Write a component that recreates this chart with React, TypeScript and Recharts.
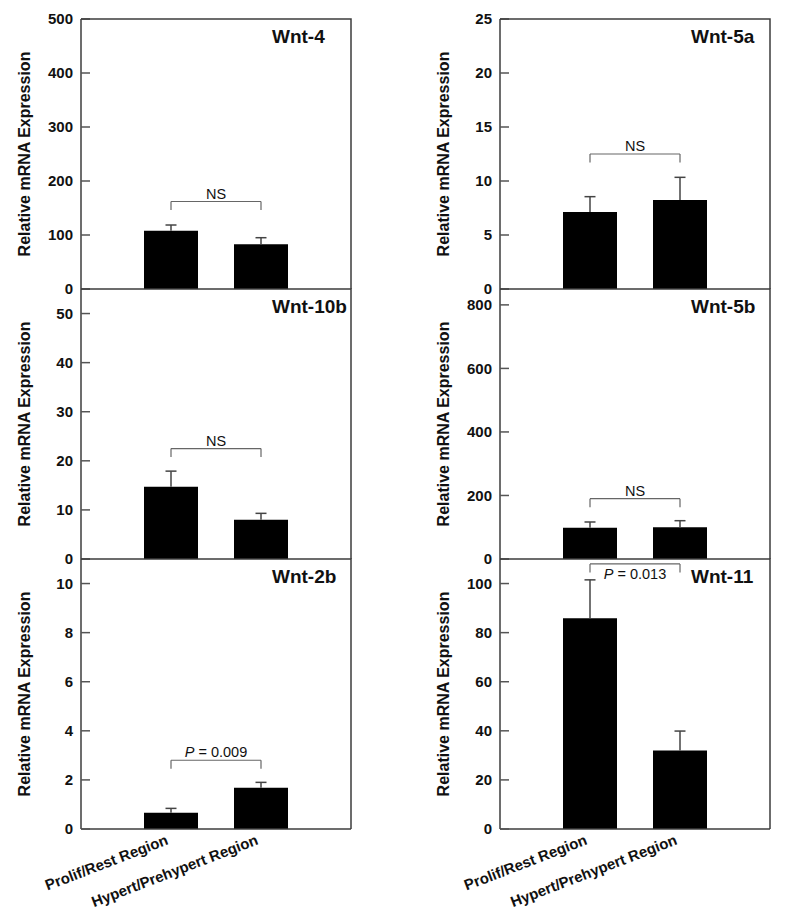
import React from "react";
import { BarChart, Bar, XAxis, YAxis, ReferenceLine } from "recharts";

const FONT = "Arial, 'Liberation Sans', Helvetica, sans-serif";

const regions = ["Prolif/Rest Region", "Hypert/Prehypert Region"];

// panels in reading order: left column first, then right, row by row
const genes = ["Wnt-4", "Wnt-5a", "Wnt-10b", "Wnt-5b", "Wnt-2b", "Wnt-11"];
const means = [
  [108, 82.7],
  [7.13, 8.24],
  [14.7, 8.0],
  [98.6, 100],
  [0.66, 1.68],
  [85.9, 32.0],
];
const errs = [
  [10.5, 12.3],
  [1.42, 2.1],
  [3.2, 1.3],
  [17.9, 20.6],
  [0.18, 0.22],
  [15.6, 7.9],
];
const yMax = [500, 25, 55, 850, 11, 110];
const yTicks = [
  [0, 100, 200, 300, 400, 500],
  [0, 5, 10, 15, 20, 25],
  [0, 10, 20, 30, 40, 50],
  [0, 200, 400, 600, 800],
  [0, 2, 4, 6, 8, 10],
  [0, 20, 40, 60, 80, 100],
];
const bracketY = [162, 12.5, 22.5, 190, 2.8, 108];
const bracketText = ["NS", "NS", "NS", "NS", "P = 0.009", "P = 0.013"];
const bracketBelow = [false, false, false, false, false, true];

const AXIS = "#3c3c3c";
const axisStyle = { stroke: AXIS, strokeWidth: 1.5 };
const TICK_MARGIN = 8;
const PLOT_L = 81;
const PLOT_W = 270;
const PLOT_H = 270;

const YTick = (props: any) => {
  const { x, y, payload } = props;
  const ax = x + TICK_MARGIN;
  return (
    <g>
      <line x1={ax} x2={ax + 9} y1={y} y2={y} stroke="#555" strokeWidth={1.5} />
      <text x={x} y={y} dy="0.36em" textAnchor="end" fontSize={15} fontWeight={700} fill="#111" fontFamily={FONT}>
        {payload.value}
      </text>
    </g>
  );
};

const XTick = (props: any) => {
  const { x, y, payload } = props;
  const tx = x - 2;
  const ty = y + 15;
  return (
    <text x={tx} y={ty} transform={`rotate(-21, ${tx}, ${ty})`} textAnchor="end" fontSize={15} fontWeight={700} fill="#111" fontFamily={FONT}>
      {payload.value}
    </text>
  );
};

// upper-only error bar: stem from bar top to mean+SE with a cap
const ErrShape = (props: any) => {
  const { x, y, width, height } = props;
  if (x == null || !height) return null;
  const cx = x + width / 2;
  return (
    <g>
      <line x1={cx} x2={cx} y1={y + height} y2={y} stroke="#444" strokeWidth={1.5} />
      <line x1={cx - 5.5} x2={cx + 5.5} y1={y} y2={y} stroke="#444" strokeWidth={1.5} />
    </g>
  );
};

const BracketLabel = (props: any) => {
  const { viewBox, text, below } = props;
  if (!viewBox) return null;
  const { x, y, width } = viewBox;
  const isP = text.startsWith("P");
  return (
    <g>
      <line x1={x} x2={x} y1={y} y2={y + 8.5} stroke="#666" strokeWidth={1.2} />
      <line x1={x + width} x2={x + width} y1={y} y2={y + 8.5} stroke="#666" strokeWidth={1.2} />
      <text x={x + width / 2} y={below ? y + 15 : y - 3} textAnchor="middle" fontSize={14.5} fill="#111" fontFamily={FONT}>
        {isP ? (
          <>
            <tspan fontStyle="italic">P</tspan>
            {text.slice(1)}
          </>
        ) : (
          text
        )}
      </text>
    </g>
  );
};

function Panel({ i }: { i: number }) {
  const col = i % 2;
  const row = Math.floor(i / 2);
  const last = row === 2;
  const left = col ? 419 : 0;
  const top = row === 0 ? 0 : row === 1 ? 280 : 550;
  const mTop = row === 0 ? 19 : 9;
  const height = mTop + PLOT_H + (last ? 88 : 11);
  const data = regions.map((r, j) => ({ region: r, mean: means[i][j], err: errs[i][j] }));

  return (
    <div style={{ position: "absolute", left, top, width: 360, height }}>
      <BarChart
        width={360}
        height={height}
        data={data}
        margin={{ top: mTop, right: 9, left: 0, bottom: last ? 0 : 11 }}
      >
        <XAxis
          dataKey="region"
          height={last ? 88 : 0}
          padding={{ left: 45, right: 45 }}
          axisLine={axisStyle}
          tickLine={false}
          tickSize={0}
          tickMargin={0}
          interval={0}
          tick={last ? (p: any) => <XTick {...p} /> : false}
        />
        <YAxis
          width={PLOT_L}
          domain={[0, yMax[i]]}
          ticks={yTicks[i]}
          interval={0}
          allowDataOverflow
          axisLine={axisStyle}
          tickLine={false}
          tickSize={0}
          tickMargin={TICK_MARGIN}
          tick={(p: any) => <YTick {...p} />}
          label={{
            value: "Relative mRNA Expression",
            angle: -90,
            position: "center",
            dx: -16.5,
            fontSize: 16,
            fontWeight: 700,
            fill: "#111",
            fontFamily: FONT,
          }}
        />
        <Bar dataKey="mean" stackId="s" fill="#000" barSize={54} isAnimationActive={false} />
        <Bar dataKey="err" stackId="s" barSize={54} shape={(p: any) => <ErrShape {...p} />} isAnimationActive={false} />
        <ReferenceLine
          segment={[
            { x: regions[0], y: bracketY[i] },
            { x: regions[1], y: bracketY[i] },
          ]}
          stroke="#666"
          strokeWidth={1.2}
          label={<BracketLabel text={bracketText[i]} below={bracketBelow[i]} />}
        />
      </BarChart>
      {/* frame: top and right edges of the plot box */}
      <svg width={360} height={height} style={{ position: "absolute", left: 0, top: 0, pointerEvents: "none" }}>
        <path
          d={`M${PLOT_L},${mTop} H${PLOT_L + PLOT_W} V${mTop + PLOT_H}`}
          fill="none"
          stroke={AXIS}
          strokeWidth={1.5}
        />
      </svg>
      <div
        style={{
          position: "absolute",
          left: PLOT_L + 191,
          top: mTop + 8,
          fontSize: 19,
          lineHeight: "19px",
          fontWeight: 700,
          fontFamily: FONT,
          color: "#111",
          whiteSpace: "nowrap",
        }}
      >
        {genes[i]}
      </div>
    </div>
  );
}

export default function App() {
  return (
    <div style={{ position: "absolute", left: 0, top: 0, width: 793, height: 917, background: "#fff" }}>
      {genes.map((g, i) => (
        <Panel key={g} i={i} />
      ))}
    </div>
  );
}
